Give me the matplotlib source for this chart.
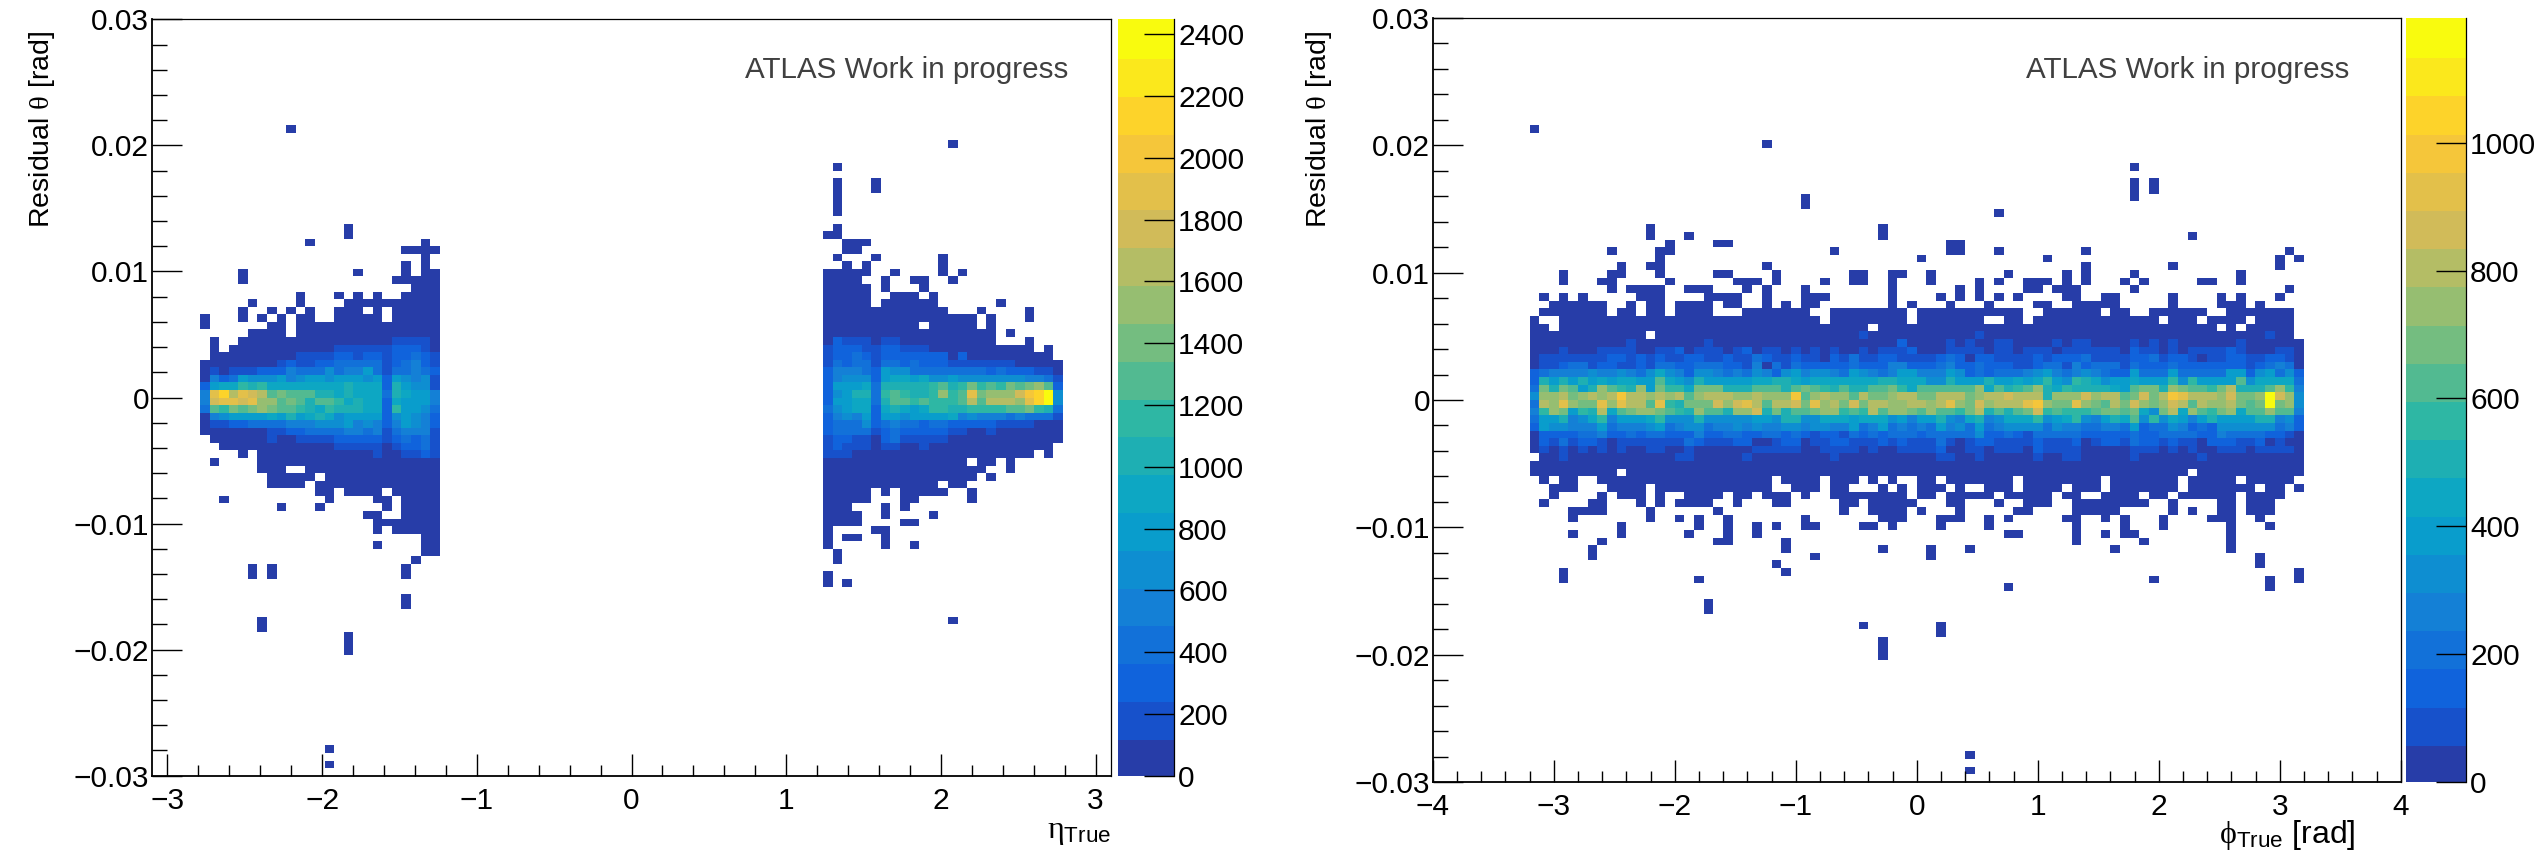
import numpy as np
import matplotlib
matplotlib.use('Agg')
import matplotlib.pyplot as plt
from matplotlib.colors import BoundaryNorm, ListedColormap, LinearSegmentedColormap

# kBird stops used by the ROOT palette
bird_red = [0.2082, 0.0592, 0.0780, 0.0232, 0.1802, 0.5301, 0.8186, 0.9956, 0.9764]
bird_green = [0.1664, 0.3599, 0.5041, 0.6419, 0.7178, 0.7492, 0.7328, 0.7862, 0.9832]
bird_blue = [0.5293, 0.8684, 0.8385, 0.7914, 0.6425, 0.4662, 0.3499, 0.1968, 0.0539]

eta_zmax = 2448
phi_zmax = 1195
n_levels = 20

# rows: theta bin relative to 0, one char per x bin holding the colour level (. = empty)
eta_neg_levels = {
    7: ".0..0 00000 00000 00000 11110",
    6: ".0.00 00000 00001 11111 22210",
    5: ".0000 00000 11112 21221 22321",
    4: "00000 00012 11223 33331 23421",
    3: "01011 12224 33353 44631 33432",
    2: "04236 55564 56656 66562 65451",
    1: "26779 89777 77777 87772 86551",
    0: "4fhdf edaba aa887 87773 87664",
    -1: "4effe fccab a8aa9 78772 76664",
    -2: "3a9ba bcbaa 98798 88772 96653",
    -3: "04566 66768 67875 66662 56542",
    -4: "01122 33334 44555 64542 46542",
    -5: "00000 00112 23333 44341 34441",
    -6: ".0000 00100 11112 22221 23231",
    -7: "..000 00000 00001 11110 12231",
    -8: "....0 .0000 00000 00010 01121",
}
# rows with only lowest level cells: bin ranges inside the cluster
eta_neg_sparse = {
    35: "9", 22: "15", 21: "15", 20: "11,23", 19: "21-24", 18: "23", 17: "21,23",
    16: "4,16,21,23-24", 15: "4,20-24", 14: "22-24", 13: "10,14,16,18,21-24",
    12: "5,10,15-24", 11: "4,7,9,11,14-16,18,20-24", 10: "0,4,6,8,10-11,14-18,20-24",
    9: "0,7-8,10-24", 8: "5-8,10-24",
    -9: "1,6-24", -10: "6-8,11-24", -11: "7-11,13-24", -12: "7-10,12-24",
    -13: "12-13,15-18,20-24", -14: "2,13,18-19,21-24", -15: "8,12,19,21-24",
    -16: "17-18,21-24", -17: "18-24", -18: "18,20-24", -19: "23-24", -20: "18,23-24",
    -21: "23-24", -22: "22", -23: "5,7,21", -24: "5,7,21", -27: "21", -28: "21",
    -30: "6", -31: "6", -32: "15", -33: "15", -34: "15", -47: "13", -49: "13",
}
eta_pos_levels = {
    7: "02111 01100 00000 000.. .0...",
    6: "12221 12211 10000 00000 00.0.",
    5: "12232 12222 22202 00000 0000.",
    4: "13233 13323 22211 11111 00000",
    3: "24443 26553 33333 33232 22110",
    2: "24555 26776 75565 55555 54431",
    1: "26667 38888 89a89 b9a9b abca2",
    0: "25688 39a98 89c9a fbccc eghj5",
    -1: "26677 38aa9 a999a daddd cfhj5",
    -2: "35677 27876 79988 9999a ab983",
    -3: "24546 26656 66674 54443 43331",
    -4: "23335 23433 23322 22211 11000",
    -5: "23333 12322 22211 00100 00000",
    -6: "12211 02311 11100 00000 00000",
    -7: "12111 01100 10000 00000 0000.",
    -8: "11100 00000 00000 00000 00.0.",
}
eta_pos_sparse = {
    33: "13", 30: "1", 28: "1,5", 27: "1,5", 26: "1", 25: "1", 24: "1", 22: "1",
    21: "0-1", 20: "2-4", 19: "2-3", 18: "1,5,12", 17: "2,4,12", 16: "0-4,7,12,14",
    15: "0-3,6,9-10,13", 14: "0-4,6,10", 13: "0-4,7-9,11", 12: "0-4,6-11,18",
    11: "0-12,16,21", 10: "0-15,17,21", 9: "0-9,11-15,17", 8: "0-17,19",
    -9: "0-14,16-17,19", -10: "0-16,19", -11: "0-15,17", -12: "0-11,13-14",
    -13: "0-4,6,8-12,15", -14: "0-4,8-9,15", -15: "0-2,6,8", -16: "0-3,6,11",
    -17: "0-3,8-9", -18: "0,5-6", -19: "0,2-3,6", -20: "0,6,9", -21: "1", -22: "1",
    -24: "0", -25: "0,2", -30: "13",
}
phi_levels = {
    8: "0000000000 00.0000000 0000000000 0000100000 0000001000 0000000000 0000000000 000000100.",
    7: "0000000000 1000000010 0000000000 0000000020 0001010011 0000101100 0010101000 0001000000",
    6: "0001000111 1001120111 0120110101 0100101112 0001111011 0111011111 1021101011 1121000110",
    5: "0111111122 1212112211 2113211211 0213112211 1123202211 1121222311 1122312210 1122112210",
    4: "0112331221 1213322333 2214031322 2223222442 2234223222 1123314233 3132223222 2222123430",
    3: "2344445445 4357542554 3435425645 5436543466 4446523233 3456434543 2263336333 3366256352",
    2: "2868686767 766a765866 6667788767 7777778877 7558666866 7679659875 6676669596 666a577773",
    1: "3b8ba68ca9 8c6b997bbb 888aaa8aba 98a88aab97 aaaaaac7a8 9ac8798888 76abb8cbaa 9bd888ac94",
    0: "5ccdbcdcdg ddcdcdacdd dccdcccgac dccadbbcdd bbdddbcdde ddd8cccecd dabebdgfdd dcebbcjec5",
    -1: "3dcfcbbfcf ddaf98bbbe cefdaddebf cdbebddccd dcdfcbecdd dfgcbbfcba dbecbcedad ccdbabjbc5",
    -2: "49cb698d7a bccba98caa 8cce8b8aab cc9a9daccb acaa9bd8a8 abe9a999ab bab75bd7ca 9bc7aacaa4",
    -3: "3668457946 6679555855 5556658855 7776777564 6685478457 7795679546 87a5957646 8666688452",
    -4: "2655444634 4456345534 4545445545 5446346343 4364536345 5553544334 4362335423 2555555342",
    -5: "0222233422 3233222422 3322332321 2213232333 2333335223 2133333222 2232233332 2433332210",
    -6: "0213122101 1111113211 1220012201 1221112121 1131012211 1121112012 2132212110 2221120100",
    -7: "0101010101 0011001000 0001111100 1111010011 1120011011 1021111000 0011101010 0111011110",
    -8: ".001000000 0000011000 0010000000 0100000000 0011001000 0010011000 0010000001 0000000000",
}
phi_sparse = {
    35: "0", 33: "24", 30: "62", 28: "62,64", 27: "62,64", 26: "28,62", 25: "28", 24: "48",
    22: "12,36", 21: "12,16,36,68", 20: "14,19-20,43-44", 19: "8,13-14,31,43-44,48,57,78",
    18: "13,40,53,77,79", 17: "9,12-13,24,57,66,77",
    16: "3,8-9,13,19-20,25,33-34,37-38,41,49,55,57,62,73",
    15: "3,7-8,14,21-23,25,30,33-34,37,41,46,48,51-53,55,57,61,63,69-70,73",
    14: "8,10-13,16-18,22,24,28,37,44,46,51-52,54-56,62,78",
    13: "1,3,5,11-13,18-21,24,28-30,37,42,44,46,48,50,55-56,59-60,66,71,73,77",
    12: "2-7,10,12-13,15-18,20-21,24,26,28-29,37,39,43,47,52-53,56-60,66,71-73,75",
    11: "1-7,9-10,12-13,15-18,22-28,31-38,40-50,53-58,60-61,64-69,72-78",
    10: "0,3-29,31-38,40-46,49-50,52-64,66-68,70-73,75-78",
    9: "0-1,3-34,36-70,72,74-78",
    -9: "0-79", -10: "0-8,10-67,69-79",
    -11: "1,3-4,7-24,26-29,31-33,35,37,40-41,43-49,51-58,60-66,68-72,74-78",
    -12: "2-4,8-11,13-24,27-29,31-32,36,38,40-42,44,47-49,51-54,56-58,60-66,68-74,76-77,79",
    -13: "2,7,9-11,13,16-19,21-22,24-26,28,31-38,40-41,43-47,49-53,55-56,59-62,64-65,67-72,74-77",
    -14: "1,6-7,11,13,15-18,21,25-26,32-33,35-39,43-44,48,51-53,56-63,66,71-72,74-76",
    -15: "4-7,12,19,32,35-38,40,44,50-51,56-60,66,68,71-72,74-76",
    -16: "4,12,15,17,20,28,36-38,42-44,47,49,55-56,59,61,65,70-72,75",
    -17: "9,17,20,23,25,28-29,34-35,37,42,47,56,61,65,72,76",
    -18: "4,9,16,20,23,49-50,56,59,61-62,72",
    -19: "7,19-20,26,56,63,72", -20: "6,26,36,41,45,60,72", -21: "6,29,41,75",
    -22: "25,75", -23: "3,26,79", -24: "3,17,64,76,79", -25: "49,76", -27: "18", -28: "18",
    -30: "34,42", -31: "42", -32: "36", -33: "36", -34: "36", -47: "45", -49: "45",
}

eta_yticks = [-0.03, -0.02, -0.01, 0, 0.01, 0.02, 0.03]
theta_labels = ["\u22120.03", "\u22120.02", "\u22120.01", "0", "0.01", "0.02", "0.03"]
eta_xticks = [-3, -2, -1, 0, 1, 2, 3]
eta_xlabels = ["\u22123", "\u22122", "\u22121", "0", "1", "2", "3"]
phi_xticks = [-4, -3, -2, -1, 0, 1, 2, 3, 4]
phi_xlabels = ["\u22124", "\u22123", "\u22122", "\u22121", "0", "1", "2", "3", "4"]
eta_cticks = list(range(0, 2401, 200))
phi_cticks = list(range(0, 1001, 200))

W, H = 2544, 858
plt.rcParams['font.family'] = ['Liberation Sans', 'DejaVu Sans']
plt.rcParams['mathtext.fontset'] = 'custom'
plt.rcParams['mathtext.rm'] = 'Liberation Serif'
plt.rcParams['mathtext.sf'] = 'Liberation Sans'
plt.rcParams['mathtext.it'] = 'Liberation Serif'
plt.rcParams['mathtext.fallback'] = 'stix'


def bins_from(spec):
    out = []
    for part in spec.split(","):
        if "-" in part:
            a, b = part.split("-")
            out.extend(range(int(a), int(b) + 1))
        else:
            out.append(int(part))
    return out


def fill(grid, levels, sparse, offset, zmax):
    step = zmax / n_levels
    for row, text in levels.items():
        for i, c in enumerate(text.replace(" ", "")):
            if c != ".":
                grid[50 + row, offset + i] = (int(c, 36) + 0.5) * step
    for row, spec in sparse.items():
        for i in bins_from(spec):
            grid[50 + row, offset + i] = 0.5 * step


def px_axes(fig, x0, y0, x1, y1):
    return fig.add_axes([x0 / W, 1 - y1 / H, (x1 - x0) / W, (y1 - y0) / H])


def panel(fig, box, cbox, xedges, xlim, grid, zmax, xticks, xlabels, cticks):
    colors = LinearSegmentedColormap.from_list("bird", list(zip(bird_red, bird_green, bird_blue)), N=255)
    palette = [colors(int((l + 0.99) * 255 / n_levels) / 254) for l in range(n_levels)]
    cmap = ListedColormap(palette)
    cmap.set_bad("white")
    norm = BoundaryNorm(np.linspace(0, zmax, n_levels + 1), n_levels)

    ax = px_axes(fig, *box)
    yedges = np.linspace(-0.03, 0.03, 101)
    mesh = ax.pcolormesh(xedges, yedges, np.ma.masked_invalid(grid), cmap=cmap, norm=norm)
    ax.set_ylim(-0.03, 0.03)
    ax.set_yticks(eta_yticks)
    ax.set_yticklabels(theta_labels, fontsize=21.5)
    ax.set_yticks(np.arange(-0.03, 0.0301, 0.002), minor=True)
    ax.set_xticks(xticks)
    ax.set_xticklabels(xlabels, fontsize=21.5)
    ax.set_xticks(np.arange(-4, 4.01, 0.2), minor=True)
    ax.set_xlim(*xlim)
    ax.tick_params(axis='y', which='major', direction='in', length=21.5, width=1.0, pad=2)
    ax.tick_params(axis='y', which='minor', direction='in', length=10.8, width=1.0)
    ax.tick_params(axis='x', which='major', direction='in', length=16, width=1.0, pad=8)
    ax.tick_params(axis='x', which='minor', direction='in', length=8, width=1.0)
    for side in ['left', 'bottom']:
        ax.spines[side].set_linewidth(1.3)
    for side in ['top', 'right']:
        ax.spines[side].set_linewidth(0.9)

    cax = px_axes(fig, *cbox)
    cb = fig.colorbar(mesh, cax=cax, spacing='proportional')
    cb.solids.set_edgecolor("face")
    cb.outline.set_visible(False)
    cb.set_ticks(cticks)
    cax.minorticks_off()
    cax.spines['right'].set_visible(True)
    cax.spines['right'].set_linewidth(0.9)
    cax.tick_params(axis='y', which='major', direction='in', length=21.5, width=1.0, pad=3, labelsize=21.5)
    return ax


def main():
    fig = plt.figure(figsize=(W / 100, H / 100), dpi=100)

    # left: residual vs eta
    eta_grid = np.full((100, 100), np.nan)
    fill(eta_grid, eta_neg_levels, eta_neg_sparse, 5, eta_zmax)
    fill(eta_grid, eta_pos_levels, eta_pos_sparse, 70, eta_zmax)
    panel(fig, (152, 19.3, 1111, 775.7), (1118, 19.3, 1174, 775.7), np.linspace(-3.1, 3.1, 101), (-3.1, 3.1),
          eta_grid, eta_zmax, eta_xticks, eta_xlabels, eta_cticks)

    # right: residual vs phi
    phi_grid = np.full((100, 100), np.nan)
    fill(phi_grid, phi_levels, phi_sparse, 10, phi_zmax)
    panel(fig, (1432.7, 18, 2400.7, 782), (2406, 18, 2466, 782), np.linspace(-4, 4, 101), (-4, 4),
          phi_grid, phi_zmax, phi_xticks, phi_xlabels, phi_cticks)

    for x in [42, 1319]:
        fig.text(x / W, 1 - 31 / H, "Residual $\\mathrm{\\theta}$ [rad]", rotation=90, ha='center', va='top', fontsize=20.5)
    for x in [745, 2026]:
        fig.text(x / W, 1 - 70 / H, "ATLAS Work in progress", ha='left', va='center', fontsize=21.3, color='#404040')
    fig.text(1111 / W, 1 - 832 / H, "$\\mathrm{\\eta}_{\\mathsf{True}}$", ha='right', va='center', fontsize=23)
    fig.text(2356 / W, 1 - 835 / H, "$\\mathrm{\\phi}_{\\mathsf{True}}$ [rad]", ha='right', va='center', fontsize=23)

    fig.savefig("out.png", dpi=100)
    plt.close(fig)


if __name__ == "__main__":
    main()
